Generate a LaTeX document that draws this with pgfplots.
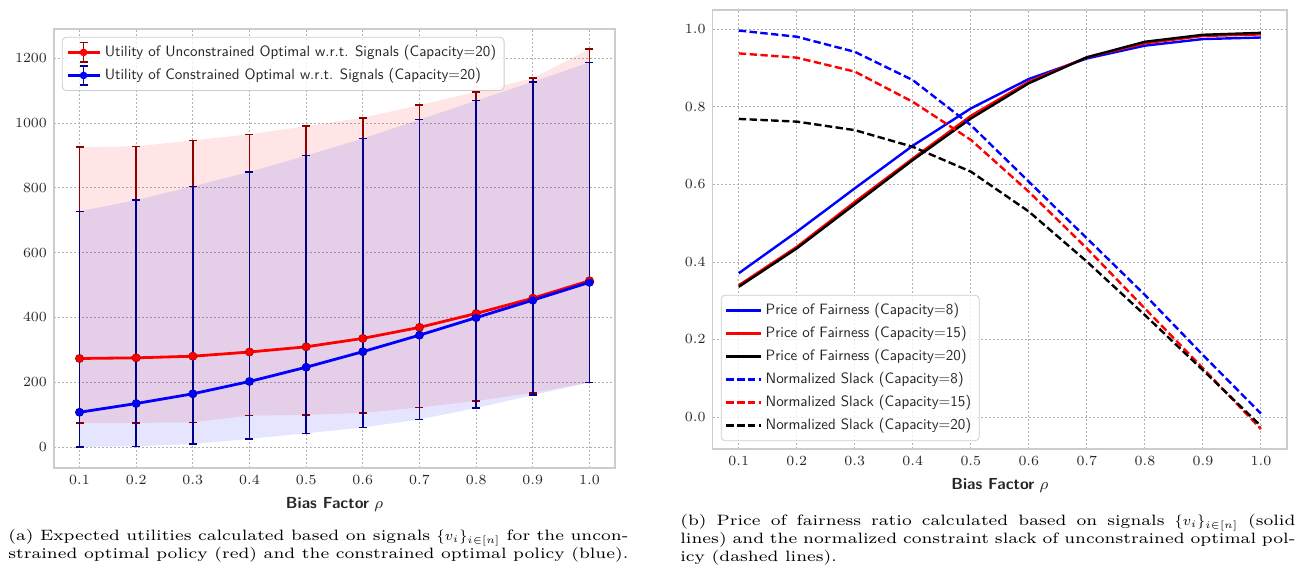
\documentclass[border=0pt]{standalone}
\usepackage{fontspec}
\usepackage{pgfplots}
\pgfplotsset{compat=1.18}
\usepackage{pgfplotstable}
\usepgfplotslibrary{fillbetween}
\newfontfamily\plotsf{lmsans10-regular.otf}[BoldFont=lmsans10-bold.otf]
\newfontfamily\caprm{lmroman7-regular.otf}[FakeStretch=1.15]
\definecolor{dred}{RGB}{139,0,0}
\definecolor{dblue}{RGB}{0,0,139}
\definecolor{gridc}{RGB}{176,176,176}
\definecolor{framec}{RGB}{204,204,204}
\definecolor{txt}{RGB}{38,38,38}

\pgfplotstableread{
x mean lo hi
0.1 273 74 925
0.2 275 74 928
0.3 280 76 946
0.4 293 97 965
0.5 309 99 990
0.6 335 105 1016
0.7 369 122 1055
0.8 412 142 1096
0.9 459 167 1138
1.0 513 199 1228
}\redtab
\pgfplotstableread{
x mean lo hi
0.1 107 0 727
0.2 134 2 762
0.3 164 9 804
0.4 202 25 849
0.5 246 42 899
0.6 294 60 952
0.7 345 85 1010
0.8 399 120 1069
0.9 453 160 1127
1.0 508 199 1187
}\bluetab
\pgfplotstableread{
x pof8 pof15 pof20 s8 s15 s20
0.1 0.371 0.340 0.336 0.997 0.938 0.769
0.2 0.478 0.439 0.435 0.981 0.927 0.762
0.3 0.590 0.555 0.549 0.942 0.891 0.740
0.4 0.700 0.667 0.663 0.869 0.813 0.697
0.5 0.796 0.777 0.770 0.753 0.715 0.633
0.6 0.872 0.865 0.861 0.607 0.581 0.530
0.7 0.925 0.928 0.928 0.461 0.435 0.401
0.8 0.958 0.964 0.968 0.315 0.280 0.263
0.9 0.975 0.983 0.986 0.160 0.126 0.121
1.0 0.979 0.987 0.991 0.009 -0.031 -0.023
}\ratiotab

\pgfplotsset{
  myax/.style={
    scale only axis,
    height=219.5pt,
    xmin=0.055, xmax=1.045,
    xtick={0.1,0.2,0.3,0.4,0.5,0.6,0.7,0.8,0.9,1.0},
    xticklabel style={/pgf/number format/.cd, fixed, fixed zerofill, precision=1},
    major tick length=0pt,
    tick style={draw=none},
    grid=major,
    major grid style={gridc, line width=0.4pt, dash pattern=on 1pt off 1pt},
    axis line style={framec, line width=0.6pt},
    every tick label/.append style={font=\fontsize{7.5}{9}\selectfont, text=txt},
    xlabel={\textbf{Bias Factor} $\rho$},
    xlabel style={font=\plotsf\fontsize{8}{9}\selectfont, text=txt},
    legend cell align=left,
    legend style={draw=framec, rounded corners=2pt, fill=white, fill opacity=0.8,
      text opacity=1, font=\plotsf\fontsize{7.5}{8.6}\selectfont, text=txt,
      inner sep=2pt, row sep=0.4pt},
  },
  redleg/.style={legend image code/.code={
    \draw[dred, line width=0.75pt] (0.28cm,-0.17cm) -- (0.28cm,0.17cm);
    \draw[dred, line width=0.75pt] (0.21cm,-0.17cm) -- (0.35cm,-0.17cm);
    \draw[dred, line width=0.75pt] (0.21cm,0.17cm) -- (0.35cm,0.17cm);
    \draw[red, line width=1.4pt] (0cm,0cm) -- (0.56cm,0cm);
    \fill[red] (0.28cm,0cm) circle (1.15pt);
  }},
  blueleg/.style={legend image code/.code={
    \draw[dblue, line width=0.75pt] (0.28cm,-0.17cm) -- (0.28cm,0.17cm);
    \draw[dblue, line width=0.75pt] (0.21cm,-0.17cm) -- (0.35cm,-0.17cm);
    \draw[dblue, line width=0.75pt] (0.21cm,0.17cm) -- (0.35cm,0.17cm);
    \draw[blue, line width=1.4pt] (0cm,0cm) -- (0.56cm,0cm);
    \fill[blue] (0.28cm,0cm) circle (1.15pt);
  }},
}

\begin{document}
\begin{tikzpicture}[x=1pt,y=1pt]

\begin{axis}[myax,
  at={(27pt,48.5pt)}, anchor=south west,
  width=280.5pt,
  ymin=-65, ymax=1290,
  ytick={0,200,400,600,800,1000,1200},
  yticklabel style={/pgf/number format/1000 sep={}},
  legend style={at={(0.014,0.982)}, anchor=north west},
]
\addplot[name path=rhi, draw=none, forget plot] table[x=x,y=hi]{\redtab};
\addplot[name path=rlo, draw=none, forget plot] table[x=x,y=lo]{\redtab};
\addplot[fill=red, fill opacity=0.1, draw=none, forget plot] fill between[of=rhi and rlo];
\addplot[name path=bhi, draw=none, forget plot] table[x=x,y=hi]{\bluetab};
\addplot[name path=blo, draw=none, forget plot] table[x=x,y=lo]{\bluetab};
\addplot[fill=blue, fill opacity=0.1, draw=none, forget plot] fill between[of=bhi and blo];

\addplot[dred, only marks, mark=none, forget plot,
  error bars/.cd, y dir=both, y explicit,
  error bar style={dred, line width=0.75pt},
  error mark options={dred, rotate=90, mark size=2pt, line width=0.75pt}]
  table[x=x, y=mean, y error plus expr=\thisrow{hi}-\thisrow{mean}, y error minus expr=\thisrow{mean}-\thisrow{lo}]{\redtab};
\addplot[dblue, only marks, mark=none, forget plot,
  error bars/.cd, y dir=both, y explicit,
  error bar style={dblue, line width=0.75pt},
  error mark options={dblue, rotate=90, mark size=2pt, line width=0.75pt}]
  table[x=x, y=mean, y error plus expr=\thisrow{hi}-\thisrow{mean}, y error minus expr=\thisrow{mean}-\thisrow{lo}]{\bluetab};

\addplot[red, line width=1.4pt, mark=*, mark size=1.15pt, redleg] table[x=x,y=mean]{\redtab};
\addlegendentry{Utility of Unconstrained Optimal w.r.t. Signals (Capacity=20)}
\addplot[blue, line width=1.4pt, mark=*, mark size=1.15pt, blueleg] table[x=x,y=mean]{\bluetab};
\addlegendentry{Utility of Constrained Optimal w.r.t. Signals (Capacity=20)}
\end{axis}

\begin{axis}[myax,
  at={(356.35pt,58pt)}, anchor=south west,
  width=287.15pt,
  ymin=-0.0825, ymax=1.05,
  ytick={0,0.2,0.4,0.6,0.8,1.0},
  yticklabel style={/pgf/number format/.cd, fixed, fixed zerofill, precision=1},
  legend style={at={(0.014,0.018)}, anchor=south west},
]
\addplot[blue, line width=1.2pt] table[x=x,y=pof8]{\ratiotab};
\addlegendentry{Price of Fairness (Capacity=8)}
\addplot[red, line width=1.2pt] table[x=x,y=pof15]{\ratiotab};
\addlegendentry{Price of Fairness (Capacity=15)}
\addplot[black, line width=1.2pt] table[x=x,y=pof20]{\ratiotab};
\addlegendentry{Price of Fairness (Capacity=20)}
\addplot[blue, line width=1.2pt, dash pattern=on 3.7pt off 1.7pt] table[x=x,y=s8]{\ratiotab};
\addlegendentry{Normalized Slack (Capacity=8)}
\addplot[red, line width=1.2pt, dash pattern=on 3.7pt off 1.7pt] table[x=x,y=s15]{\ratiotab};
\addlegendentry{Normalized Slack (Capacity=15)}
\addplot[black, line width=1.2pt, dash pattern=on 3.7pt off 1.7pt] table[x=x,y=s20]{\ratiotab};
\addlegendentry{Normalized Slack (Capacity=20)}
\end{axis}

\node[anchor=north west, text width=310pt, align=justify, inner sep=0pt,
  font=\caprm\fontsize{7.5}{9}\selectfont] at (4pt,18pt)
  {(a) Expected utilities calculated based on signals $\{v_i\}_{i\in[n]}$ for the uncon-\linebreak strained optimal policy (red) and the constrained optimal policy (blue).};
\node[anchor=north west, text width=307.5pt, align=justify, inner sep=0pt,
  font=\caprm\fontsize{7.5}{9}\selectfont] at (340pt,25.5pt)
  {(b) Price of fairness ratio calculated based on signals $\{v_i\}_{i\in[n]}$ (solid\linebreak lines) and the normalized constraint slack of unconstrained optimal pol-\linebreak icy (dashed lines).};

\pgfresetboundingbox
\path (0,0) rectangle (649.5,282.5);
\end{tikzpicture}
\end{document}
